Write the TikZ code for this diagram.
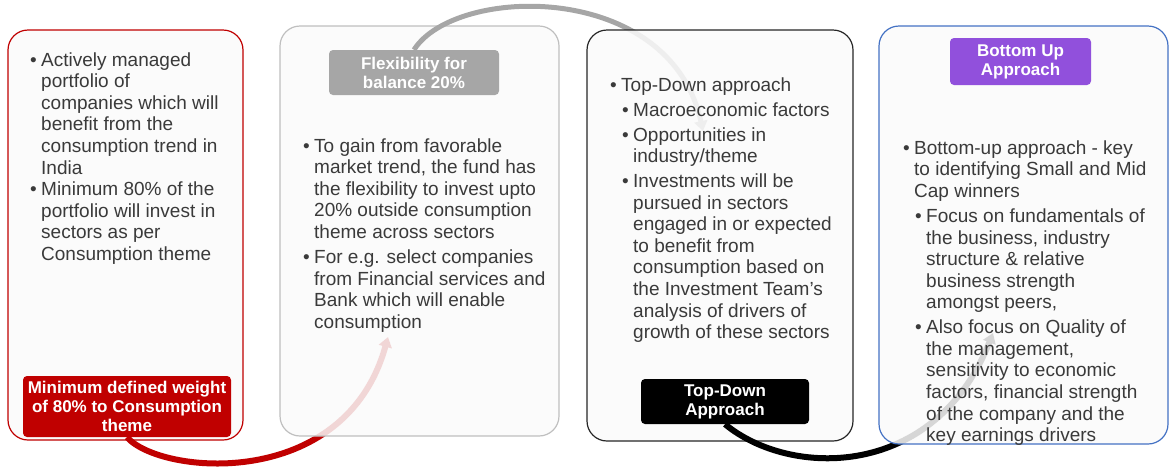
\documentclass[tikz,border=0pt]{standalone}
\usepackage{fontspec}
\setmainfont{Liberation Sans}
\usetikzlibrary{arrows.meta}

\definecolor{tagred}{HTML}{C00000}
\definecolor{taggray}{HTML}{A6A6A6}
\definecolor{tagpurple}{HTML}{9150DC}
\definecolor{boxblue}{HTML}{4472C4}
\definecolor{boxgray}{HTML}{BFBFBF}
\definecolor{boxdark}{HTML}{262626}
\definecolor{panelfill}{HTML}{FAFAFA}
\definecolor{txtgray}{HTML}{3A3A3A}

\pgfdeclarelayer{bg}
\pgfsetlayers{bg,main}

% bullet hanging to the left of the text column
\newcommand\dotmark{\llap{\textbullet\hspace{4.5pt}}}

\tikzset{
  panel/.style={rounded corners=20pt, fill=panelfill, fill opacity=0.86,
    line width=1.2pt, inner sep=0pt},
  labelbox/.style={rounded corners=4pt, inner sep=0pt, text=white, align=center,
    font=\fontsize{17}{19}\selectfont\bfseries},
  bodytext/.style={anchor=base west, inner sep=0pt, text=txtgray,
    font=\fontsize{19}{21.6}\selectfont},
  flow/.style={-{Triangle[width=13pt,length=10pt]}}
}

\begin{document}
\begin{tikzpicture}[x=1pt,y=-1pt]
\useasboundingbox (0,0) rectangle (1170,467);

% headline tags
\node[labelbox, fill=tagred, minimum width=208pt, minimum height=61pt] (lab1) at (127,406.5)
  {Minimum defined weight\\of 80\% to Consumption\\theme};
\node[labelbox, fill=taggray, minimum width=170pt, minimum height=45pt] (lab2) at (414,72.5)
  {Flexibility for\\balance 20\%};
\node[labelbox, fill=black, minimum width=168pt, minimum height=45pt] (lab3) at (725,401.5)
  {Top-Down\\Approach};
\node[labelbox, fill=tagpurple, minimum width=141pt, minimum height=47pt] (lab4) at (1020.5,61.5)
  {Bottom Up\\Approach};

% arrow ends
\coordinate (tip1) at (388,337);
\coordinate (tip2) at (703,131);
\coordinate (tip3) at (993,333);

% panels and the curved arrows passing behind the next panel
\begin{pgfonlayer}{bg}
\node[panel, draw=tagred, minimum width=235pt, minimum height=410pt] (box1) at (125.5,235) {};
\draw[flow, draw=tagred, line width=6pt]
  (lab1.south) .. controls (160,475) and (345,492) .. (tip1);
\node[panel, draw=boxgray, minimum width=279pt, minimum height=410pt] (box2) at (419.5,231) {};
\draw[flow, draw=taggray, line width=5pt]
  (lab2.north) .. controls (455,-15) and (670,-20) .. (tip2);
\node[panel, draw=boxdark, minimum width=266pt, minimum height=411pt] (box3) at (720,235.5) {};
\draw[flow, draw=black, line width=6pt]
  (lab3.south) .. controls (790,478) and (935,480) .. (tip3);
\node[panel, draw=boxblue, minimum width=289pt, minimum height=418pt] (box4) at (1023.5,235) {};
\end{pgfonlayer}

% panel texts
\node[bodytext] (txt1) at (41,66) {\begin{tabular}[t]{@{}l@{}}
\dotmark Actively managed\\
portfolio of\\
companies which will\\
benefit from the\\
consumption trend in\\
India\\
\dotmark Minimum 80\% of the\\
portfolio will invest in\\
sectors as per\\
Consumption theme
\end{tabular}};

\node[bodytext] (txt2) at (314,152) {\begin{tabular}[t]{@{}l@{}}
\dotmark To gain from favorable\\
market trend, the fund has\\
the flexibility to invest upto\\
20\% outside consumption\\
theme across sectors\\[3.4pt]
\dotmark For e.g. select companies\\
from Financial services and\\
Bank which will enable\\
consumption
\end{tabular}};

\node[bodytext] (txt3) at (621,91.5) {\begin{tabular}[t]{@{}l@{}}
\dotmark Top-Down approach\\[3.2pt]
\hspace*{12pt}\dotmark Macroeconomic factors\\[3.2pt]
\hspace*{12pt}\dotmark Opportunities in\\
\hspace*{12pt}industry/theme\\[3.2pt]
\hspace*{12pt}\dotmark Investments will be\\
\hspace*{12pt}pursued in sectors\\
\hspace*{12pt}engaged in or expected\\
\hspace*{12pt}to benefit from\\
\hspace*{12pt}consumption based on\\
\hspace*{12pt}the Investment Team’s\\
\hspace*{12pt}analysis of drivers of\\
\hspace*{12pt}growth of these sectors
\end{tabular}};

\node[bodytext] (txt4) at (914,154) {\begin{tabular}[t]{@{}l@{}}
\dotmark Bottom-up approach - key\\
to identifying Small and Mid\\
Cap winners\\[3.6pt]
\hspace*{12pt}\dotmark Focus on fundamentals of\\
\hspace*{12pt}the business, industry\\
\hspace*{12pt}structure \& relative\\
\hspace*{12pt}business strength\\
\hspace*{12pt}amongst peers,\\[3.2pt]
\hspace*{12pt}\dotmark Also focus on Quality of\\
\hspace*{12pt}the management,\\
\hspace*{12pt}sensitivity to economic\\
\hspace*{12pt}factors, financial strength\\
\hspace*{12pt}of the company and the\\
\hspace*{12pt}key earnings drivers
\end{tabular}};
\end{tikzpicture}
\end{document}
